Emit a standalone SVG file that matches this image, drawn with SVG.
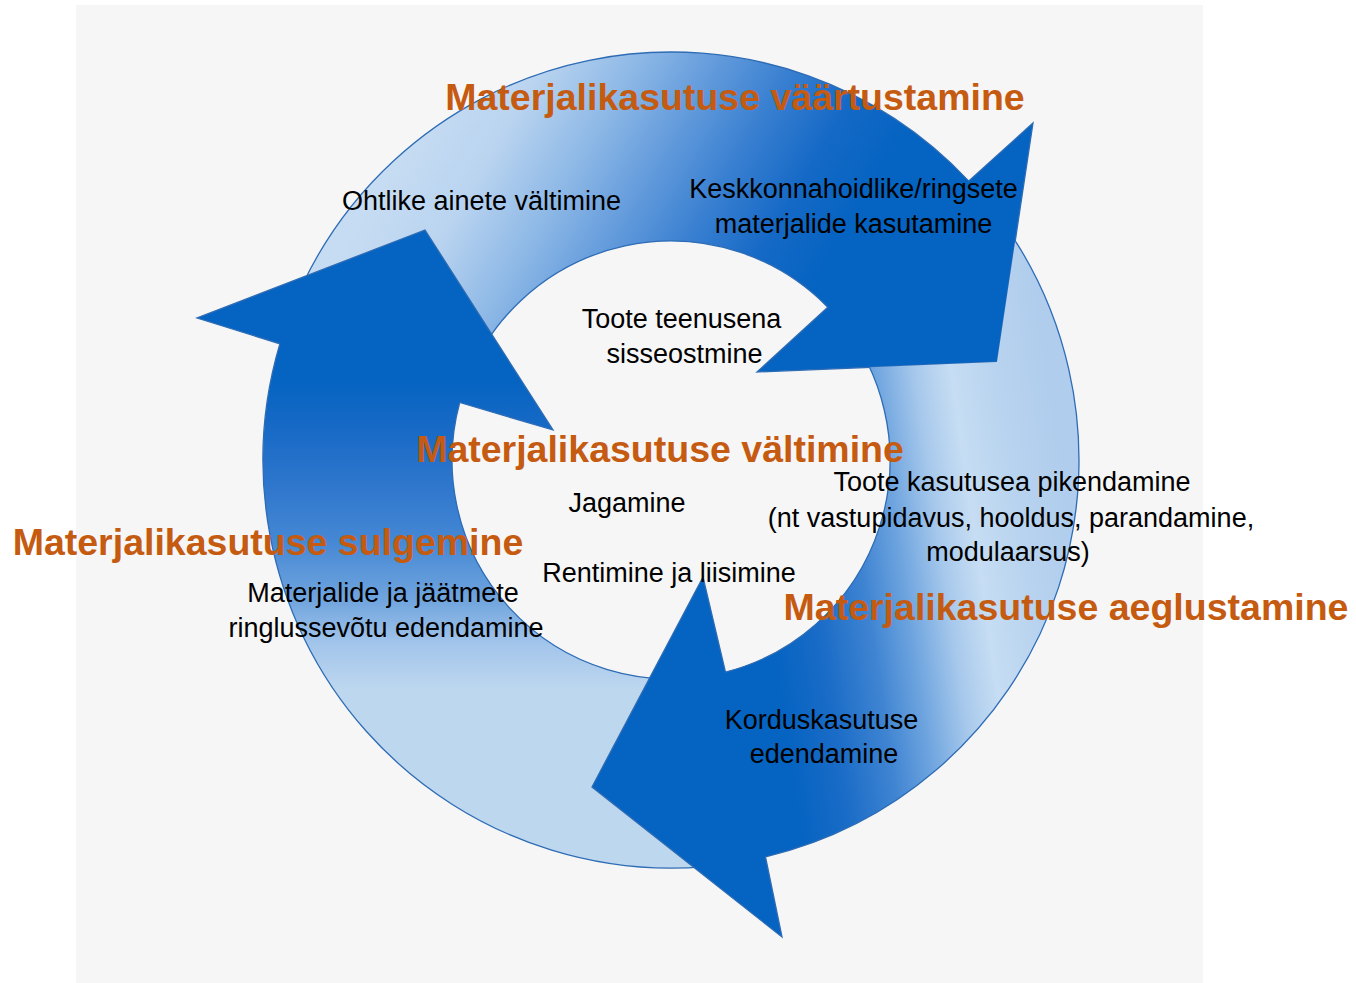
<svg xmlns="http://www.w3.org/2000/svg" width="1356" height="983" viewBox="0 0 1356 983">
  <style>
    .band { stroke: #2E6CB5; stroke-width: 1.3; stroke-linejoin: miter; }
    .lbl { font-family: "Liberation Sans", Arial, sans-serif; font-size: 27px; fill: #000000; text-anchor: middle; }
    .ttl { font-family: "Liberation Sans", Arial, sans-serif; font-size: 37.5px; font-weight: bold; fill: #C55A11; text-anchor: middle; }
  </style>
  <defs>
    <linearGradient id="gTop" gradientUnits="userSpaceOnUse" x1="400" y1="150" x2="860" y2="420">
      <stop offset="0" stop-color="#C6DCF2"/>
      <stop offset="0.15" stop-color="#BAD4F0"/>
      <stop offset="0.3" stop-color="#8DB8E6"/>
      <stop offset="0.4" stop-color="#6CA1DE"/>
      <stop offset="0.55" stop-color="#3A80D1"/>
      <stop offset="0.68" stop-color="#1569C6"/>
      <stop offset="0.8" stop-color="#0563C1"/>
      <stop offset="1" stop-color="#0563C1"/>
    </linearGradient>
    <linearGradient id="gRight" gradientUnits="userSpaceOnUse" x1="780" y1="700" x2="1090" y2="655">
      <stop offset="0" stop-color="#0563C1"/>
      <stop offset="0.16" stop-color="#1A6CC7"/>
      <stop offset="0.32" stop-color="#3F84D2"/>
      <stop offset="0.45" stop-color="#6FA5DF"/>
      <stop offset="0.58" stop-color="#A8C9EC"/>
      <stop offset="0.69" stop-color="#C6DDF3"/>
      <stop offset="0.84" stop-color="#B8D3EF"/>
      <stop offset="1" stop-color="#B0CDED"/>
    </linearGradient>
    <linearGradient id="gLeft" gradientUnits="userSpaceOnUse" x1="0" y1="380" x2="0" y2="700">
      <stop offset="0" stop-color="#0563C1"/>
      <stop offset="0.156" stop-color="#186AC6"/>
      <stop offset="0.31" stop-color="#2C75CC"/>
      <stop offset="0.5" stop-color="#4487D4"/>
      <stop offset="0.69" stop-color="#71A5DE"/>
      <stop offset="0.83" stop-color="#A4C6EB"/>
      <stop offset="0.97" stop-color="#BDD7EF"/>
      <stop offset="1" stop-color="#BDD7EE"/>
    </linearGradient>
    <clipPath id="clipTopHead" clipPathUnits="userSpaceOnUse">
      <path clip-rule="evenodd" d="M0 0H1356V983H0Z M1033 123L997 362L757 372Z"/>
    </clipPath>
  </defs>

  <rect x="0" y="0" width="1356" height="983" fill="#FFFFFF"/>
  <rect x="76" y="5" width="1127" height="978" fill="#F6F6F6"/>

  <g id="connectors">
    <g id="arrow-vaartustamine">
      <path class="band" fill="url(#gTop)" d="M287.6 320.5 A408 408 0 0 1 968.8 181.1 L1033 123 L997 362 L757 372 L827.8 307.2 A219 219 0 0 0 465.2 385.1 Z"/>
    </g>
    <g id="arrow-sulgemine">
      <path class="band" fill="url(#gLeft)" d="M741.8 861.8 A408 408 0 0 1 279.9 343.8 L197 318 L425 230 L553 430 L459.7 402.5 A219 219 0 0 0 709.0 675.7 Z"/>
    </g>
    <g id="arrow-aeglustamine" clip-path="url(#clipTopHead)">
      <path class="band" fill="url(#gRight)" d="M983.5 197.7 A408 408 0 0 1 765.5 856.9 L782 937 L592 787 L703 577 L725.5 672.1 A219 219 0 0 0 838.8 319.2 Z"/>
    </g>
  </g>

  <g id="node-vaartustamine">
    <text class="ttl" x="735" y="110">Materjalikasutuse väärtustamine</text>
    <text class="lbl" x="481.5" y="210">Ohtlike ainete vältimine</text>
    <text class="lbl" x="853.5" y="198">Keskkonnahoidlike/ringsete</text>
    <text class="lbl" x="853.5" y="233">materjalide kasutamine</text>
  </g>
  <g id="node-valtimine">
    <text class="lbl" x="681.5" y="328">Toote teenusena</text>
    <text class="lbl" x="684.5" y="363">sisseostmine</text>
    <text class="ttl" x="660" y="462">Materjalikasutuse vältimine</text>
    <text class="lbl" x="627" y="512">Jagamine</text>
    <text class="lbl" x="669" y="582">Rentimine ja liisimine</text>
  </g>
  <g id="node-aeglustamine">
    <text class="lbl" x="1012" y="491">Toote kasutusea pikendamine</text>
    <text class="lbl" x="1011" y="527">(nt vastupidavus, hooldus, parandamine,</text>
    <text class="lbl" x="1008" y="561">modulaarsus)</text>
    <text class="ttl" x="1066" y="620">Materjalikasutuse aeglustamine</text>
    <text class="lbl" x="821.5" y="728.5">Korduskasutuse</text>
    <text class="lbl" x="824" y="763">edendamine</text>
  </g>
  <g id="node-sulgemine">
    <text class="ttl" x="268" y="555">Materjalikasutuse sulgemine</text>
    <text class="lbl" x="383" y="602">Materjalide ja jäätmete</text>
    <text class="lbl" x="386" y="637">ringlussevõtu edendamine</text>
  </g>
</svg>
